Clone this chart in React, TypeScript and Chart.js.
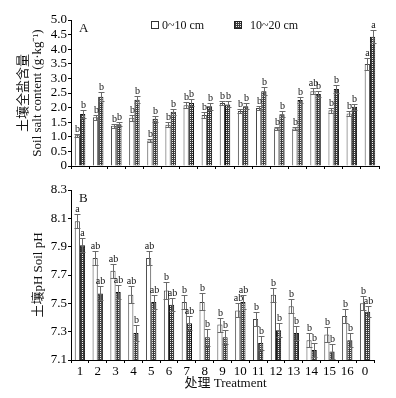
import React, { useEffect, useRef } from 'react';
import { Chart, registerables } from 'chart.js';
Chart.register(...registerables);

const treatments = ['1', '2', '3', '4', '5', '6', '7', '8', '9', '10', '11', '12', '13', '14', '15', '16', '0'];
const seriesNames = ['0~10 cm', '10~20 cm'];

const saltTop = [1.05, 1.67, 1.38, 1.65, 0.87, 1.41, 2.08, 1.75, 2.16, 1.88, 1.99, 1.29, 1.28, 2.56, 1.91, 1.80, 3.49];
const saltSub = [1.78, 2.37, 1.43, 2.27, 1.62, 1.86, 2.16, 2.05, 2.11, 2.05, 2.56, 1.77, 2.26, 2.47, 2.64, 2.03, 4.43];
const saltTopErr = [0.06, 0.08, 0.07, 0.1, 0.05, 0.08, 0.1, 0.1, 0.08, 0.08, 0.08, 0.06, 0.06, 0.1, 0.08, 0.08, 0.2];
const saltSubErr = [0.13, 0.15, 0.07, 0.12, 0.1, 0.1, 0.12, 0.12, 0.1, 0.1, 0.13, 0.1, 0.1, 0.1, 0.13, 0.1, 0.22];
const saltTopLetters = ['b', 'b', 'b', 'b', 'b', 'b', 'b', 'b', 'b', 'b', 'b', 'b', 'b', 'ab', 'b', 'b', 'a'];
const saltSubLetters = ['b', 'b', 'b', 'b', 'b', 'b', 'b', 'b', 'b', 'b', 'b', 'b', 'b', 'b', 'b', 'b', 'a'];

const phTop = [8.08, 7.82, 7.73, 7.56, 7.82, 7.59, 7.51, 7.51, 7.35, 7.45, 7.39, 7.56, 7.48, 7.24, 7.28, 7.41, 7.5];
const phSub = [7.91, 7.57, 7.58, 7.29, 7.51, 7.49, 7.36, 7.26, 7.26, 7.51, 7.22, 7.31, 7.29, 7.17, 7.16, 7.24, 7.44];
const phTopErr = [0.05, 0.05, 0.05, 0.06, 0.05, 0.06, 0.05, 0.06, 0.05, 0.05, 0.05, 0.05, 0.05, 0.05, 0.05, 0.05, 0.05];
const phSubErr = [0.05, 0.05, 0.05, 0.055, 0.05, 0.045, 0.05, 0.06, 0.05, 0.05, 0.05, 0.05, 0.05, 0.05, 0.05, 0.05, 0.04];
const phTopLetters = ['a', 'ab', 'ab', 'ab', 'ab', 'b', 'b', 'b', 'b', 'ab', 'b', 'b', 'b', 'b', 'b', 'b', 'b'];
const phSubLetters = ['a', 'ab', 'ab', 'b', 'ab', 'ab', 'ab', 'b', 'b', 'ab', 'b', 'b', 'b', 'b', 'b', 'b', 'ab'];

const saltTicks = { min: 0, max: 5, step: 0.5 };
const phTicks = { min: 7.1, max: 8.3, step: 0.2 };

const FONT = "'Liberation Serif', 'Times New Roman', 'Noto Sans CJK SC', serif";

function makePattern(): CanvasPattern | string {
  const c = document.createElement('canvas');
  c.width = 2;
  c.height = 2;
  const g = c.getContext('2d');
  if (!g) return '#555';
  g.fillStyle = '#3a3a3a';
  g.fillRect(0, 0, 2, 2);
  g.fillStyle = '#eeeeee';
  g.fillRect(0, 0, 1, 1);
  return g.createPattern(c, 'repeat') || '#555';
}

function annotPlugin(cfg: {
  errs: number[][];
  letters: string[][];
  panel: string;
  titles: string[];
  legend: boolean;
  pattern: any;
}) {
  return {
    id: 'annot' + cfg.panel,
    afterDatasetsDraw(chart: any) {
      const ctx = chart.ctx as CanvasRenderingContext2D;
      const ys = chart.scales.y;
      ctx.save();
      chart.data.datasets.forEach((ds: any, di: number) => {
        const meta = chart.getDatasetMeta(di);
        meta.data.forEach((bar: any, i: number) => {
          const v = ds.data[i] as number;
          const e = cfg.errs[di][i];
          const x = Math.round(bar.x) + 0.5;
          const yT = Math.round(ys.getPixelForValue(v + e)) + 0.5;
          const yB = Math.round(ys.getPixelForValue(Math.max(v - e, ys.min))) + 0.5;
          ctx.strokeStyle = '#6a6a6a';
          ctx.lineWidth = 1;
          ctx.beginPath();
          ctx.moveTo(x, yT);
          ctx.lineTo(x, yB);
          ctx.moveTo(x - 3, yT);
          ctx.lineTo(x + 3, yT);
          ctx.moveTo(x - 3, yB);
          ctx.lineTo(x + 3, yB);
          ctx.stroke();
          ctx.fillStyle = '#111';
          ctx.font = `10px ${FONT}`;
          ctx.textAlign = 'center';
          ctx.textBaseline = 'bottom';
          ctx.fillText(cfg.letters[di][i], x, yT - 0.5);
        });
      });
      ctx.restore();
    },
    afterDraw(chart: any) {
      const ctx = chart.ctx as CanvasRenderingContext2D;
      const a = chart.chartArea;
      ctx.save();
      ctx.fillStyle = '#111';
      ctx.font = `13px ${FONT}`;
      ctx.textAlign = 'left';
      ctx.textBaseline = 'top';
      ctx.fillText(cfg.panel, a.left + 8, a.top + 2);
      const cy = (a.top + a.bottom) / 2;
      const xs = cfg.titles.length === 2 ? [24, 38] : [39];
      cfg.titles.forEach((t, k) => {
        ctx.save();
        ctx.translate(xs[k], cy);
        ctx.rotate(-Math.PI / 2);
        ctx.textAlign = 'center';
        ctx.textBaseline = 'middle';
        ctx.font = `13px ${FONT}`;
        ctx.fillText(t, 0, 0);
        ctx.restore();
      });
      if (cfg.legend) {
        ctx.font = `12px ${FONT}`;
        ctx.textBaseline = 'middle';
        ctx.textAlign = 'left';
        const ly = a.top + 5;
        ctx.fillStyle = '#fff';
        ctx.fillRect(151.5, ly - 3.5, 7, 7);
        ctx.strokeStyle = '#333';
        ctx.lineWidth = 1;
        ctx.strokeRect(151.5, ly - 3.5, 7, 7);
        ctx.fillStyle = '#111';
        ctx.fillText(seriesNames[0], 162, ly + 1);
        ctx.fillStyle = cfg.pattern;
        ctx.fillRect(234, ly - 4, 8, 8);
        ctx.strokeStyle = '#222';
        ctx.strokeRect(234.5, ly - 3.5, 7, 7);
        ctx.fillStyle = '#111';
        ctx.fillText(seriesNames[1], 250, ly + 1);
      }
      if (cfg.panel === 'B') {
        ctx.font = `13px ${FONT}`;
        ctx.textAlign = 'center';
        ctx.textBaseline = 'middle';
        ctx.fillText('处理 Treatment', (a.left + a.right) / 2 + 3, a.bottom + 24);
      }
      ctx.restore();
    },
  };
}

function buildOptions(t: { min: number; max: number; step: number }, fmt: (v: number) => string, rightPad: number, topPad: number, xHeight: number, showX: boolean) {
  const tickFont = { family: FONT, size: 13 };
  return {
    responsive: false,
    animation: false as const,
    layout: { padding: { left: 0, right: rightPad, top: topPad, bottom: 0 } },
    plugins: { legend: { display: false }, tooltip: { enabled: false } },
    scales: {
      x: {
        type: 'category' as const,
        offset: true,
        grid: { display: true, drawOnChartArea: false, drawTicks: true, tickLength: 3, color: '#000', offset: true },
        border: { display: true, color: '#000', width: 1 },
        ticks: { display: showX, color: '#000', font: tickFont, padding: 1, maxRotation: 0, autoSkip: false },
        afterFit: (s: any) => { s.height = xHeight; },
      },
      y: {
        min: t.min,
        max: t.max,
        grid: { display: true, drawOnChartArea: false, drawTicks: true, tickLength: 3, color: '#000' },
        border: { display: true, color: '#000', width: 1 },
        ticks: { stepSize: t.step, autoSkip: false, color: '#000', font: tickFont, padding: 1, callback: (v: any) => fmt(Number(v)) },
        afterFit: (s: any) => { s.width = 71; },
      },
    },
  };
}

function datasets(top: number[], sub: number[], pattern: any) {
  return [
    { label: seriesNames[0], data: top, backgroundColor: '#ffffff', borderColor: '#444', borderWidth: 1, categoryPercentage: 0.58, barPercentage: 1 },
    { label: seriesNames[1], data: sub, backgroundColor: pattern, borderColor: '#111', borderWidth: 1, categoryPercentage: 0.58, barPercentage: 1 },
  ];
}

export default function App() {
  const refA = useRef<HTMLCanvasElement>(null);
  const refB = useRef<HTMLCanvasElement>(null);

  useEffect(() => {
    const pattern = makePattern();
    const chartA = new Chart(refA.current!, {
      type: 'bar',
      data: { labels: treatments, datasets: datasets(saltTop, saltSub, pattern) as any },
      options: buildOptions(saltTicks, (v) => (v === 0 ? '0' : v.toFixed(1)), 17, 20, 12, false) as any,
      plugins: [annotPlugin({ errs: [saltTopErr, saltSubErr], letters: [saltTopLetters, saltSubLetters], panel: 'A', titles: ['土壤全盐含量', 'Soil salt content (g·kg⁻¹)'], legend: true, pattern })],
    });
    const chartB = new Chart(refB.current!, {
      type: 'bar',
      data: { labels: treatments, datasets: datasets(phTop, phSub, pattern) as any },
      options: buildOptions(phTicks, (v) => v.toFixed(1), 22, 12, 38, true) as any,
      plugins: [annotPlugin({ errs: [phTopErr, phSubErr], letters: [phTopLetters, phSubLetters], panel: 'B', titles: ['土壤pH Soil pH'], legend: false, pattern })],
    });
    return () => {
      chartA.destroy();
      chartB.destroy();
    };
  }, []);

  return (
    <div style={{ position: 'fixed', left: 0, top: 0, width: 396, height: 398, background: '#fff' }}>
      <canvas ref={refA} width={396} height={178} style={{ position: 'absolute', left: 0, top: 0 }} />
      <canvas ref={refB} width={396} height={220} style={{ position: 'absolute', left: 0, top: 178 }} />
    </div>
  );
}
